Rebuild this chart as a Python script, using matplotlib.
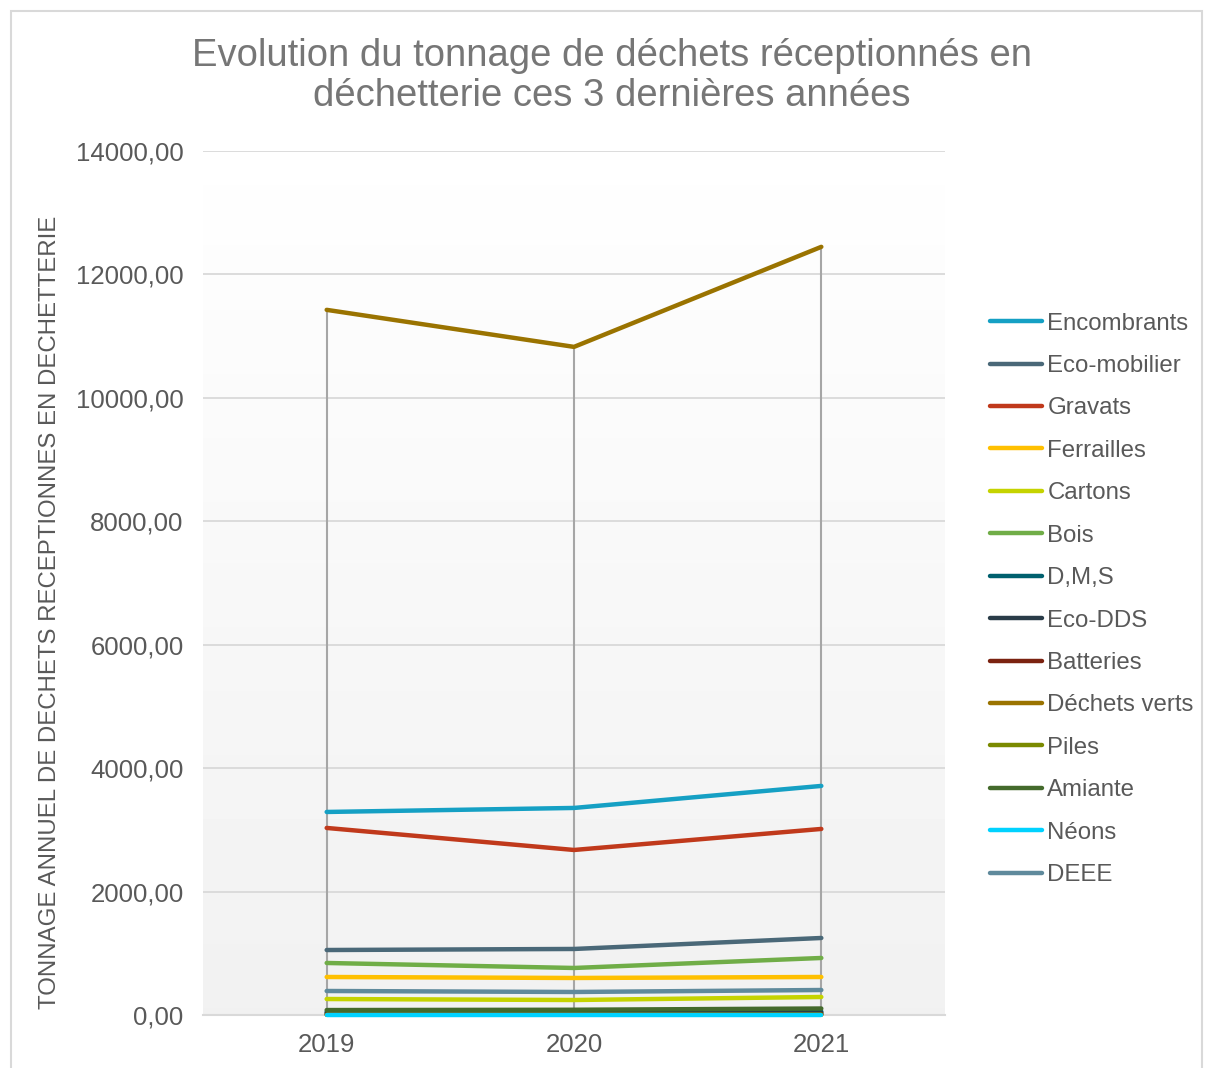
import numpy as np
import matplotlib
matplotlib.use("Agg")
import matplotlib.pyplot as plt
from matplotlib.patches import Rectangle
from matplotlib.ticker import FuncFormatter

plt.rcParams['font.family'] = ['Liberation Sans', 'DejaVu Sans']

years = ["2019", "2020", "2021"]
series_names = ["Encombrants", "Eco-mobilier", "Gravats", "Ferrailles", "Cartons", "Bois",
                "D,M,S", "Eco-DDS", "Batteries", "Déchets verts", "Piles", "Amiante",
                "Néons", "DEEE"]
encombrants = [3290, 3355, 3712]
eco_mobilier = [1053, 1070, 1248]
gravats = [3031, 2674, 3015]
ferrailles = [616, 600, 616]
cartons = [259, 243, 292]
bois = [843, 762, 924]
dms = [50, 45, 55]
eco_dds = [30, 28, 35]
batteries = [10, 9, 11]
dechets_verts = [11426, 10826, 12447]
piles = [5, 5, 6]
amiante = [80, 85, 105]
neons = [3, 3, 3]
deee = [389, 373, 405]

series_values = [encombrants, eco_mobilier, gravats, ferrailles, cartons, bois, dms, eco_dds,
                 batteries, dechets_verts, piles, amiante, neons, deee]
colors = ["#15a0c4", "#4a6878", "#c0391b", "#ffc000", "#c5d300", "#70ad47", "#00606e",
          "#2a3c48", "#7b2210", "#9a7300", "#7a8a00", "#446a2c", "#00d2ff", "#5f8a9c"]

fig = plt.figure(figsize=(12.06, 10.68), dpi=100)
fig.patches.append(Rectangle((11 / 1206, -0.01), 1191 / 1206, 1 - 11 / 1068 + 0.01,
                             transform=fig.transFigure, fill=False, edgecolor="#d9d9d9",
                             linewidth=1.5))

ax = fig.add_axes([203 / 1206, 1 - 1015 / 1068, 742 / 1206, 864 / 1068])
x = np.arange(len(years))

# gradient background
grad = np.linspace(0.998, 0.945, 256).reshape(-1, 1)
ax.imshow(grad, cmap="gray", vmin=0, vmax=1, aspect="auto",
          extent=[-0.5, 2.5, 0, 14000], zorder=0, origin="upper")

ax.set_xlim(-0.5, 2.5)
ax.set_ylim(0, 14000)
ax.set_yticks(np.arange(0, 14001, 2000))
ax.yaxis.set_major_formatter(FuncFormatter(lambda v, p: f"{v:.2f}".replace(".", ",")))
ax.set_xticks(x)
ax.set_xticklabels(years)
ax.grid(axis="y", color="#d9d9d9", linewidth=1.3, zorder=1)
for s in ["top", "right", "left"]:
    ax.spines[s].set_visible(False)
ax.spines["bottom"].set_color("#d9d9d9")
ax.spines["bottom"].set_linewidth(1.5)
ax.tick_params(length=0, labelsize=18.5, labelcolor="#595959")
ax.tick_params(axis="y", pad=14)
ax.tick_params(axis="x", pad=13)

# high-low lines
arr = np.array(series_values)
ax.vlines(x, arr.min(axis=0), arr.max(axis=0), color="#a6a6a6", linewidth=1.5, zorder=2)

for name, vals, c in zip(series_names, series_values, colors):
    ax.plot(x, vals, color=c, linewidth=3.2, label=name, solid_capstyle="round",
            zorder=3, clip_on=False)

ax.set_ylabel("TONNAGE ANNUEL DE DECHETS RECEPTIONNES EN DECHETTERIE", fontsize=17.3,
              color="#595959")
ax.yaxis.set_label_coords(-0.191, 0.466)

fig.text(612 / 1206, 1 - 76 / 1068,
         "Evolution du tonnage de déchets réceptionnés en\ndéchetterie ces 3 dernières années",
         ha="center", va="center", fontsize=27.5, color="#767676", linespacing=1.15)

leg = fig.legend(loc="upper left", bbox_to_anchor=(980 / 1206, 1 - 303 / 1068),
                 frameon=False, fontsize=17.3, handlelength=2.2, handletextpad=0.2,
                 labelspacing=0.85, borderaxespad=0)
for t in leg.get_texts():
    t.set_color("#595959")

fig.savefig("out.png", dpi=100)
